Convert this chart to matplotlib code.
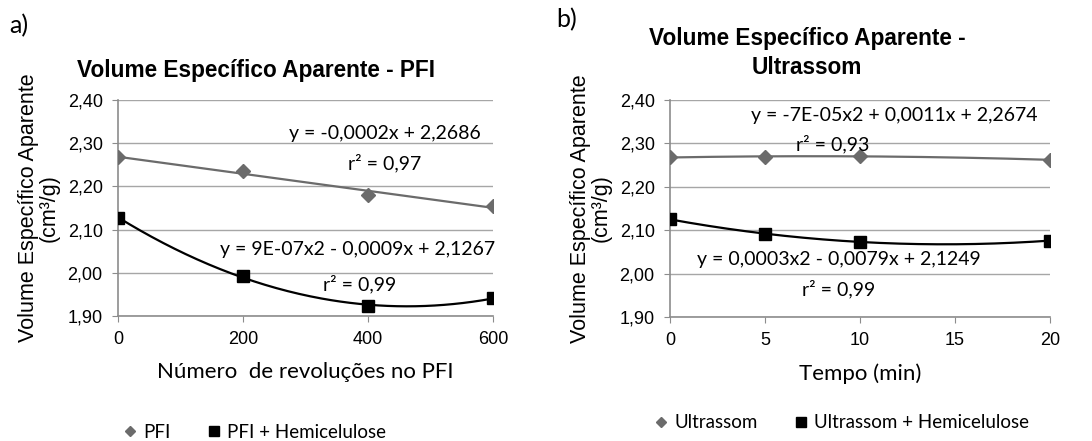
import numpy as np
import matplotlib
matplotlib.use("Agg")
import matplotlib.pyplot as plt
from matplotlib.lines import Line2D

# data
pfi_x = [0, 200, 400, 600]
pfi = [2.268, 2.235, 2.180, 2.155]
pfi_hemi = [2.127, 1.993, 1.922, 1.942]

us_x = [0, 5, 10, 20]
us = [2.268, 2.269, 2.271, 2.262]
us_hemi = [2.125, 2.092, 2.073, 2.076]

y_ticks = [1.90, 2.00, 2.10, 2.20, 2.30, 2.40]
pfi_ticks = [0, 200, 400, 600]
us_ticks = [0, 5, 10, 15, 20]

GRAY = "#6b6b6b"
GRID = "#a6a6a6"
ARIAL = ["Liberation Sans", "DejaVu Sans"]
CALIB = ["Lato", "DejaVu Sans"]

W, H = 1092, 441
fig = plt.figure(figsize=(W / 100, H / 100), dpi=100)


def px(x, y):
    return x / W, 1 - y / H


def setup_axes(ax, xlim, xticks):
    ax.set_xlim(*xlim)
    ax.set_ylim(1.90, 2.40)
    ax.set_yticks(y_ticks)
    ax.set_yticklabels([f"{v:.2f}".replace(".", ",") for v in y_ticks],
                       family=ARIAL, fontsize=13)
    ax.set_xticks(xticks)
    ax.set_xticklabels([str(v) for v in xticks], family=ARIAL, fontsize=13)
    ax.grid(axis="y", color=GRID, lw=1)
    ax.set_axisbelow(True)
    for s in ["top", "right"]:
        ax.spines[s].set_visible(False)
    for s in ["left", "bottom"]:
        ax.spines[s].set_color("#8c8c8c")
        ax.spines[s].set_linewidth(1.2)
    ax.tick_params(length=4, color="#8c8c8c", pad=7)
    ax.set_ylabel("Volume Específico Aparente\n(cm³/g)", family=ARIAL,
                  fontsize=15.5, linespacing=0.95, labelpad=6)


def trend(ax, x, y, deg, color, xmax):
    c = np.polyfit(x, y, deg)
    xs = np.linspace(0, xmax, 200)
    ax.plot(xs, np.polyval(c, xs), color=color, lw=1.6, zorder=2)


# ---- a) PFI
ax1 = fig.add_axes([118 / W, 1 - 316 / H, 375 / W, 216 / H])
setup_axes(ax1, (0, 600), pfi_ticks)
ax1.plot(pfi_x, pfi, "D", color=GRAY, ms=7, zorder=3)
ax1.plot(pfi_x, pfi_hemi, "s", color="black", ms=8, zorder=3)
trend(ax1, pfi_x, pfi, 1, GRAY, 600)
trend(ax1, pfi_x, pfi_hemi, 2, "black", 600)
ax1.set_xlabel("Número  de revoluções no PFI", family=CALIB, fontsize=16,
               labelpad=10)

# ---- b) Ultrassom
ax2 = fig.add_axes([670 / W, 1 - 317 / H, 380 / W, 217 / H])
setup_axes(ax2, (0, 20), us_ticks)
ax2.plot(us_x, us, "D", color=GRAY, ms=7, zorder=3)
ax2.plot(us_x, us_hemi, "s", color="black", ms=8, zorder=3)
trend(ax2, us_x, us, 2, GRAY, 20)
trend(ax2, us_x, us_hemi, 2, "black", 20)
ax2.set_xlabel("Tempo (min)", family=CALIB, fontsize=16, labelpad=10)

# titles and panel labels
fig.text(*px(256, 70), "Volume Específico Aparente - PFI", family=ARIAL,
         fontsize=16.3, weight="bold", ha="center", va="center")
fig.text(*px(807, 53), "Volume Específico Aparente -\nUltrassom", family=ARIAL,
         fontsize=16.3, weight="bold", ha="center", va="center",
         linespacing=1.35)
fig.text(*px(19, 26), "a)", family=CALIB, fontsize=18, ha="center", va="center")
fig.text(*px(567, 20), "b)", family=CALIB, fontsize=18, ha="center", va="center")

# trendline equations
eqs = [
    (385, 134, "y = -0,0002x + 2,2686"),
    (385, 163, "r² = 0,97"),
    (358, 250, "y = 9E-07x2 - 0,0009x + 2,1267"),
    (360, 284, "r² = 0,99"),
    (894, 116, "y = -7E-05x2 + 0,0011x + 2,2674"),
    (833, 144, "r² = 0,93"),
    (839, 259, "y = 0,0003x2 - 0,0079x + 2,1249"),
    (839, 289, "r² = 0,99"),
]
for x, y, s in eqs:
    fig.text(*px(x, y), s, family=CALIB, fontsize=14, ha="center",
             va="center")

# legends
def legend(names, cx, cy):
    h = [Line2D([], [], ls="", marker="D", color=GRAY, ms=5.5),
         Line2D([], [], ls="", marker="s", color="black", ms=7.5)]
    fig.legend(h, names, loc="center", bbox_to_anchor=px(cx, cy), ncol=2,
               frameon=False, prop={"family": CALIB, "size": 13.5},
               handlelength=0.6, handletextpad=0.4, columnspacing=2.0)


legend(["PFI", "PFI + Hemicelulose"], 255, 432)
legend(["Ultrassom", "Ultrassom + Hemicelulose"], 842, 423)

fig.savefig("out.png", dpi=100)
